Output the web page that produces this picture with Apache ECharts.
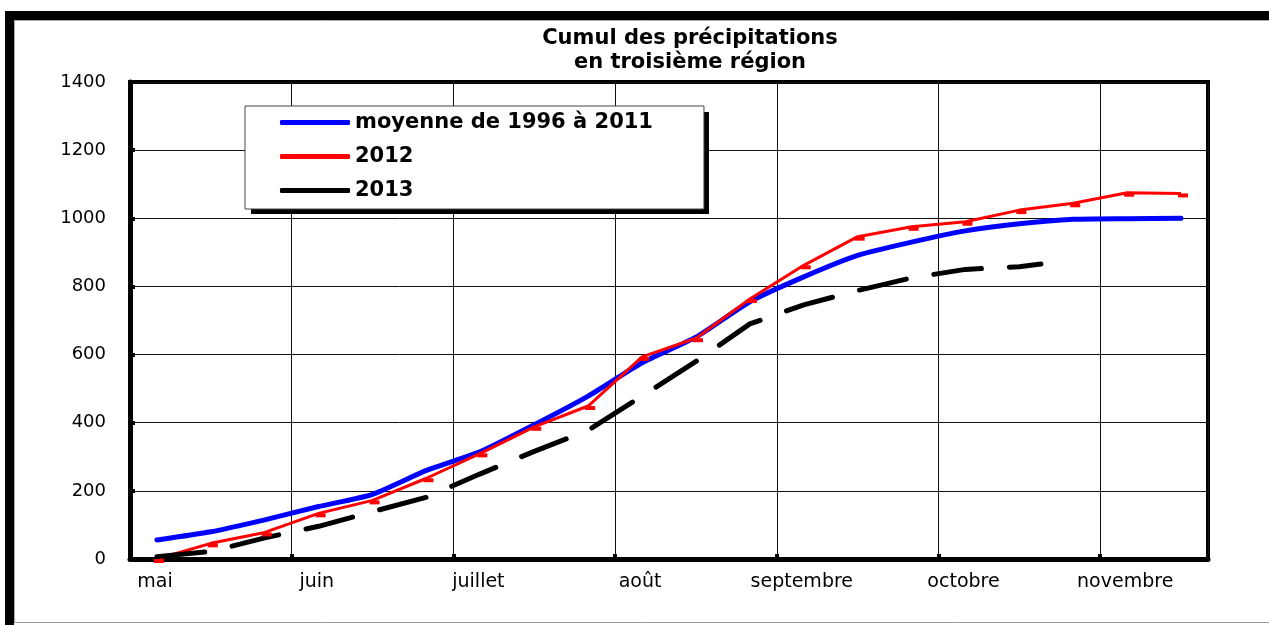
<!DOCTYPE html>
<html>
<head>
<meta charset="utf-8">
<title>Cumul des précipitations</title>
<script src="https://cdn.jsdelivr.net/npm/echarts@6/dist/echarts.min.js"></script>
<style>
html, body { margin: 0; padding: 0; background: #fff; }
#chart { width: 1269px; height: 625px; }
</style>
</head>
<body>
<div id="chart"></div>
<script>
// x en décades depuis le 1er mai (3 décades par mois), points au milieu de chaque décade
const decades = [0.5, 1.5, 2.5, 3.5, 4.5, 5.5, 6.5, 7.5, 8.5, 9.5,
                 10.5, 11.5, 12.5, 13.5, 14.5, 15.5, 16.5, 17.5, 18.5, 19.5];
const decades2013 = [0.5, 1.5, 2.5, 3.5, 4.5, 5.5, 6.5, 7.5, 8.5, 9.5,
                     10.5, 11.5, 12.5, 13.5, 14.5, 15.5, 16.5, 16.9];

const months = ["mai", "juin", "juillet", "août", "septembre", "octobre", "novembre"];
const monthStarts = [0, 3, 6, 9, 12, 15, 18];

// cumul en mm
const moyenne = [56, 80, 115, 154, 190, 260, 315, 394, 478, 576,
                 651, 755, 828, 891, 930, 963, 984, 997, 999, 1000];
const annee2012 = [0, 46, 78, 134, 172, 237, 310, 388, 449, 593,
                   648, 763, 862, 946, 975, 990, 1024, 1044, 1075, 1073];
const annee2013 = [7, 22, 62, 96, 139, 181, 250, 316, 378, 478,
                   580, 690, 746, 788, 825, 850, 858, 866];

function pairs(xs, ys) {
    return ys.map((y, i) => [xs[i], y]);
}

const chart = echarts.init(document.getElementById("chart"));
const font = "DejaVu Sans";

chart.setOption({
    animation: false,
    backgroundColor: "#fff",
    title: {
        text: "Cumul des précipitations\nen troisième région",
        left: 690,
        top: 27,
        padding: 0,
        textAlign: "center",
        textStyle: {
            fontFamily: font,
            fontSize: 21,
            fontWeight: "bold",
            lineHeight: 24,
            color: "#000"
        }
    },
    legend: {
        orient: "vertical",
        left: 245,
        top: 106,
        icon: "roundRect",
        itemWidth: 70,
        itemHeight: 5,
        itemGap: 13,
        padding: [6, 51, 8, 35],
        backgroundColor: "#fff",
        borderColor: "#444",
        borderWidth: 1,
        textStyle: {
            fontFamily: font,
            fontSize: 21,
            fontWeight: "bold",
            color: "#000"
        },
        data: ["moyenne de 1996 à 2011", "2012", "2013"]
    },
    grid: {
        left: 130,
        top: 82,
        width: 1078,
        height: 477,
        show: true,
        borderColor: "#000",
        borderWidth: 4
    },
    xAxis: {
        type: "value",
        min: 0,
        max: 20,
        interval: 3,
        axisLine: { show: true, lineStyle: { color: "#000", width: 5 } },
        axisTick: { show: true, inside: true, length: 5, lineStyle: { color: "#000", width: 4 } },
        splitLine: { show: true, lineStyle: { color: "#111", width: 1 } },
        axisLabel: {
            margin: 14,
            fontFamily: font,
            fontSize: 19,
            color: "#000",
            padding: [0, 0, 0, 50],
            formatter: function (v) {
                const i = monthStarts.indexOf(v);
                return i >= 0 ? months[i] : "";
            }
        }
    },
    yAxis: {
        type: "value",
        min: 0,
        max: 1400,
        interval: 200,
        axisLine: { show: true, lineStyle: { color: "#000", width: 5 } },
        axisTick: { show: true, inside: true, length: 5, lineStyle: { color: "#000", width: 4 } },
        splitLine: { show: true, lineStyle: { color: "#111", width: 1 } },
        axisLabel: {
            margin: 24,
            fontFamily: font,
            fontSize: 18,
            color: "#000",
            formatter: function (v) { return String(v); }
        }
    },
    series: [
        {
            name: "moyenne de 1996 à 2011",
            type: "line",
            data: pairs(decades, moyenne),
            showSymbol: false,
            smooth: 0.2,
            itemStyle: { color: "#0000ff" },
            lineStyle: { color: "#0000ff", width: 5, cap: "round" }
        },
        {
            name: "2012",
            type: "line",
            data: pairs(decades, annee2012),
            symbol: "rect",
            symbolSize: [10, 4],
            symbolOffset: [2, 2],
            itemStyle: { color: "#ff0000" },
            lineStyle: { color: "#ff0000", width: 3 }
        },
        {
            name: "2013",
            type: "line",
            data: pairs(decades2013, annee2013),
            showSymbol: false,
            itemStyle: { color: "#000" },
            lineStyle: { color: "#000", width: 5, type: [48, 28], cap: "round" }
        }
    ],
    graphic: [
        // ombre du cadre de légende
        { type: "rect", z: 3, shape: { x: 251, y: 112, width: 458, height: 102 }, style: { fill: "#000" } },
        // cadre de la page
        { type: "rect", shape: { x: 5, y: 11, width: 1264, height: 9 }, style: { fill: "#000" } },
        { type: "rect", shape: { x: 5, y: 11, width: 9, height: 614 }, style: { fill: "#000" } },
        { type: "line", shape: { x1: 14, y1: 20.5, x2: 1269, y2: 20.5 }, style: { stroke: "#aaa", lineWidth: 1 } },
        { type: "line", shape: { x1: 14.5, y1: 20, x2: 14.5, y2: 623 }, style: { stroke: "#aaa", lineWidth: 1 } },
        { type: "line", shape: { x1: 14, y1: 622.5, x2: 1269, y2: 622.5 }, style: { stroke: "#999", lineWidth: 1 } }
    ]
});
</script>
</body>
</html>
